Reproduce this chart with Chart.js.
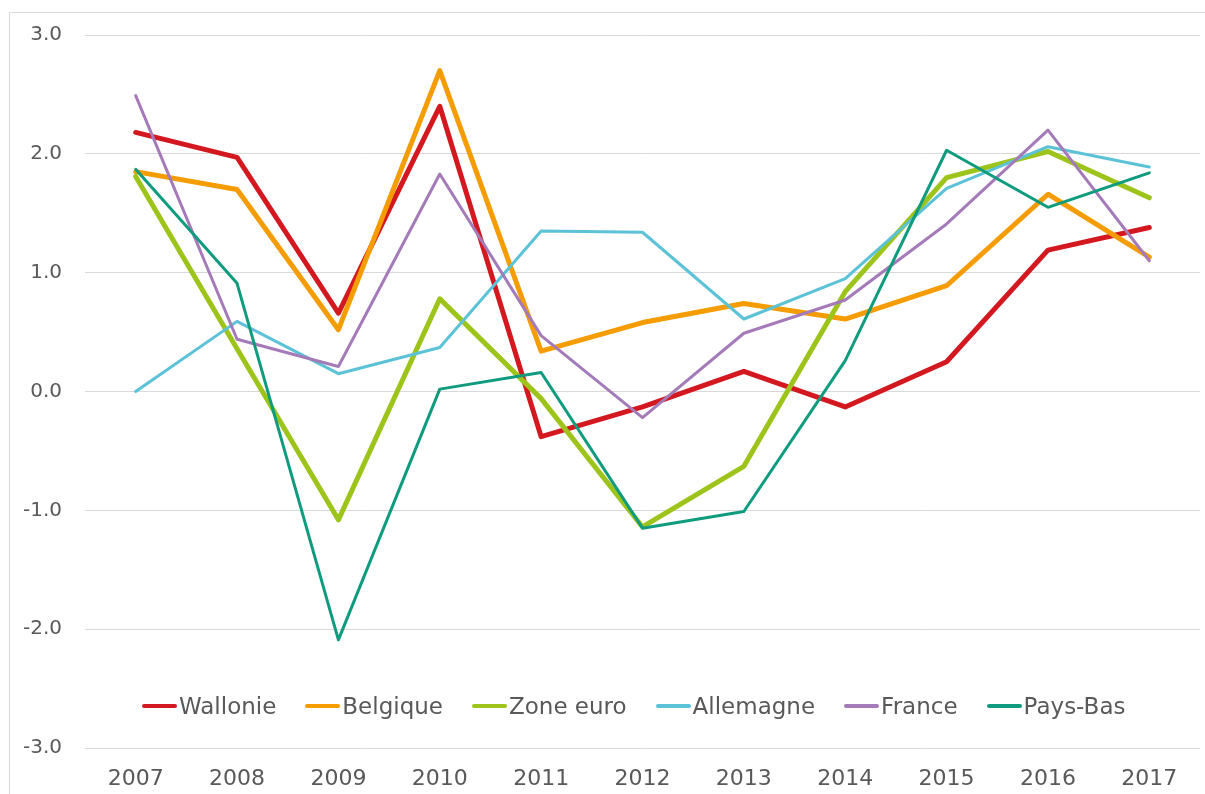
<!DOCTYPE html>
<html lang="fr">
<head>
<meta charset="utf-8">
<title>Croissance du PIB</title>
<script src="https://cdn.jsdelivr.net/npm/chart.js@4/dist/chart.umd.min.js"></script>
<style>
  html, body { margin: 0; padding: 0; background: #fff; }
  body { width: 1205px; height: 794px; overflow: hidden; position: relative; font-family: "DejaVu Sans", sans-serif; }
  #frame { position: absolute; left: 9px; top: 12px; width: 1400px; height: 1000px; border: 1px solid #d9d9d9; }
  #growthChart { position: absolute; left: 0; top: 0; }
  #legend { position: absolute; left: 142px; top: 692px; display: flex; align-items: center; color: #595959; font-size: 23px; }
  .legend-item { display: flex; align-items: center; margin-right: 29px; height: 28px; }
  .legend-swatch { display: inline-block; width: 35px; height: 4px; border-radius: 2px; margin-right: 2px; }
</style>
</head>
<body>
<div id="frame"></div>
<canvas id="growthChart" width="1205" height="794"></canvas>
<div id="legend"></div>

<script>
// data
const years = ['2007', '2008', '2009', '2010', '2011', '2012', '2013', '2014', '2015', '2016', '2017'];

const wallonie  = [2.18, 1.97, 0.66, 2.40, -0.38, -0.13, 0.17, -0.13, 0.25, 1.19, 1.38];
const belgique  = [1.85, 1.70, 0.52, 2.70, 0.34, 0.58, 0.74, 0.61, 0.89, 1.66, 1.13];
const zoneEuro  = [1.81, 0.36, -1.08, 0.78, -0.06, -1.14, -0.63, 0.84, 1.80, 2.02, 1.63];
const allemagne = [0.00, 0.59, 0.15, 0.37, 1.35, 1.34, 0.61, 0.95, 1.71, 2.06, 1.89];
const france    = [2.49, 0.44, 0.21, 1.83, 0.47, -0.22, 0.49, 0.77, 1.41, 2.20, 1.10];
const paysBas   = [1.87, 0.91, -2.09, 0.02, 0.16, -1.15, -1.01, 0.26, 2.03, 1.55, 1.84];

const yTicks = [-3, -2, -1, 0, 1, 2, 3];

const series = [
  { label: 'Wallonie',  data: wallonie,  color: '#d3191f', width: 5 },
  { label: 'Belgique',  data: belgique,  color: '#f59c00', width: 5 },
  { label: 'Zone euro', data: zoneEuro,  color: '#9dc41a', width: 5 },
  { label: 'Allemagne', data: allemagne, color: '#5bc2d8', width: 3 },
  { label: 'France',    data: france,    color: '#a47bb8', width: 3 },
  { label: 'Pays-Bas',  data: paysBas,   color: '#0f9b7d', width: 3 }
];

const textColor = '#595959';
const gridColor = '#d9d9d9';

const chart = new Chart(document.getElementById('growthChart'), {
  type: 'line',
  data: {
    labels: years,
    datasets: series.map((s, i) => ({
      label: s.label,
      data: s.data,
      borderColor: s.color,
      backgroundColor: s.color,
      borderWidth: s.width,
      borderCapStyle: 'round',
      borderJoinStyle: 'round',
      pointRadius: 0,
      tension: 0,
      fill: false,
      order: series.length - i // later series drawn on top, like the original
    }))
  },
  options: {
    responsive: false,
    devicePixelRatio: 1,
    animation: false,
    layout: { padding: { top: 34, right: 5, left: 0, bottom: 0 } },
    plugins: {
      legend: { display: false },
      tooltip: { enabled: false }
    },
    scales: {
      x: {
        offset: true,
        grid: { display: false, drawTicks: false },
        border: { display: false },
        ticks: {
          color: textColor,
          font: { family: 'DejaVu Sans', size: 22 },
          padding: 18,
          maxRotation: 0
        },
        afterFit: (scale) => { scale.height = 46; }
      },
      y: {
        min: yTicks[0],
        max: yTicks[yTicks.length - 1],
        afterBuildTicks: (scale) => { scale.ticks = yTicks.map(v => ({ value: v })); },
        grid: { color: gridColor, lineWidth: 1, drawTicks: false },
        border: { display: false },
        ticks: {
          color: textColor,
          font: { family: 'DejaVu Sans', size: 20 },
          padding: 23,
          callback: (v) => Number(v).toFixed(1)
        },
        afterFit: (scale) => { scale.width = 85; }
      }
    }
  }
});

/* ------------------------------
   LEGEND (placed inside the plot, as in the original)
------------------------------ */
const legendEl = document.getElementById('legend');
legendEl.innerHTML = chart.data.datasets.map(ds => `
  <div class="legend-item">
    <span class="legend-swatch" style="background:${ds.borderColor}"></span>
    <span>${ds.label}</span>
  </div>
`).join('');
</script>
</body>
</html>
